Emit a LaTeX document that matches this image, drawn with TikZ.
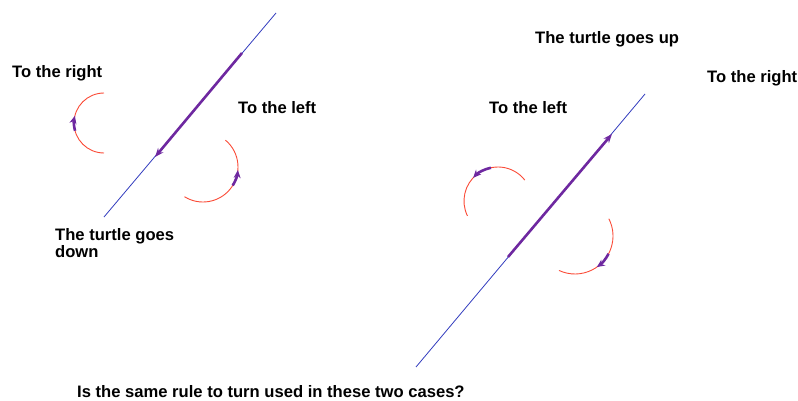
\documentclass[tikz,border=0pt]{standalone}
\usepackage{fontspec}
\setmainfont{Liberation Sans}
\usetikzlibrary{arrows.meta,calc}
\definecolor{lineblue}{RGB}{50,60,190}
\definecolor{turtlepurple}{RGB}{110,40,160}
\definecolor{arcred}{RGB}{250,75,55}
\begin{document}
\begin{tikzpicture}[x=1pt,y=1pt,
  lbl/.style={anchor=base west,inner sep=0pt,font=\fontsize{16.6}{17}\selectfont\bfseries,align=left},
  path/.style={draw=lineblue,line width=0.8pt},
  walk/.style={draw=turtlepurple,line width=2.6pt,-{Stealth[length=9pt,width=7pt]}},
  turn/.style={draw=arcred,line width=0.9pt},
  turnarrow/.style={draw=turtlepurple,line width=2.6pt,-{Stealth[length=8pt,width=7pt]}}]
\useasboundingbox (0,0) rectangle (798,400);
% ---------- left case ----------
\coordinate (l1) at (104,183);
\coordinate (l2) at (276,387);
\coordinate (la) at (242,347);
\coordinate (lb) at (155,243);
\draw[path] (l1) -- (l2);
\draw[walk] (la) -- (lb);
% arc to the right
\coordinate (cR1) at (104,277);
\draw[turn] ($(cR1)+(90:30)$) arc[start angle=90,end angle=270,radius=30];
\draw[turnarrow] ($(cR1)+(195:30)$) arc[start angle=195,end angle=166,radius=30];
% arc to the left
\coordinate (cL1) at (203,233);
\draw[turn] ($(cL1)+(50:35)$) arc[start angle=50,end angle=-122,radius=35];
\draw[turnarrow] ($(cL1)+(-32:35)$) arc[start angle=-32,end angle=-5,radius=35];
\node[lbl] (tr1) at (12,323) {To the right};
\node[lbl] (tl1) at (238,287) {To the left};
\node[lbl,anchor=north west] (down) at (55,171.5) {The turtle goes\\down};
% ---------- right case ----------
\coordinate (r1) at (416,33);
\coordinate (r2) at (645,306);
\coordinate (ra) at (508,143);
\coordinate (rb) at (612,266);
\draw[path] (r1) -- (r2);
\draw[walk] (ra) -- (rb);
% arc to the left
\coordinate (cL2) at (498,199);
\draw[turn] ($(cL2)+(38:34)$) arc[start angle=38,end angle=206,radius=34];
\draw[turnarrow] ($(cL2)+(102:34)$) arc[start angle=102,end angle=137,radius=34];
% arc to the right
\coordinate (cR2) at (575,164);
\draw[turn] ($(cR2)+(27:38)$) arc[start angle=27,end angle=-115,radius=38];
\draw[turnarrow] ($(cR2)+(-28:38)$) arc[start angle=-28,end angle=-55,radius=38];
\node[lbl] (up) at (535,356) {The turtle goes up};
\node[lbl] (tr2) at (707,318) {To the right};
\node[lbl] (tl2) at (489,287) {To the left};
\node[lbl] (q) at (77,3) {Is the same rule to turn used in these two cases?};
\end{tikzpicture}
\end{document}
